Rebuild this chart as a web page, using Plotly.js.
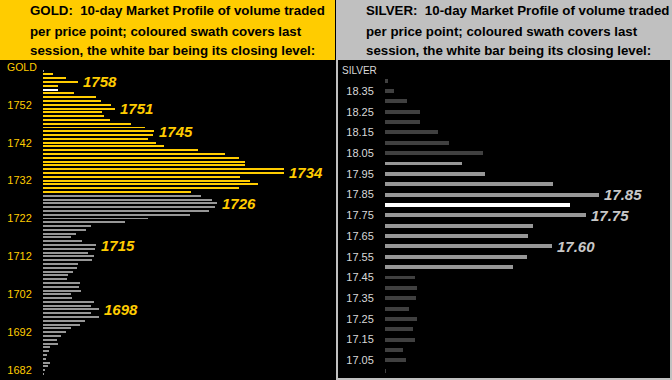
<!DOCTYPE html>
<html>
<head>
<meta charset="utf-8">
<script src="https://cdn.plot.ly/plotly-3.0.1.min.js"></script>
<style>
html,body{margin:0;padding:0;background:#000;}
#chart{width:672px;height:380px;}
</style>
</head>
<body>
<div id="chart"></div>
<script>
// ---------- GOLD data (price point -> volume traded, 10-day profile) ----------
const goldPrices = [1761,1760,1759,1758,1757,1756,1755,1754,1753,1752,1751,1750,1749,1748,1747,1746,1745,1744,1743,1742,1741,1740,1739,1738,1737,1736,1735,1734,1733,1732,1731,1730,1729,1728,1727,1726,1725,1724,1723,1722,1721,1720,1719,1718,1717,1716,1715,1714,1713,1712,1711,1710,1709,1708,1707,1706,1705,1704,1703,1702,1701,1700,1699,1698,1697,1696,1695,1694,1693,1692,1691,1690,1689,1688,1687,1686,1685,1684,1683,1682,1681];
const goldVolume = [1,10,23,35,15,15,31,53,58,68,72,59,61,67,88,102,111,110,105,113,121,155,182,196,202,202,241,241,197,207,215,196,148,158,169,174,172,166,147,105,82,48,43,33,28,39,53,52,45,51,49,35,34,30,25,24,37,36,38,28,29,51,48,56,48,56,42,37,28,23,18,14,15,7,6,4,3,7,5,2,1];
const goldSessionLow = 1729, goldSessionHigh = 1760, goldClose = 1756;
const goldLabels = [1758,1751,1745,1734,1726,1715,1698];
const goldTicks = [1682,1692,1702,1712,1722,1732,1742,1752];

// ---------- SILVER data ----------
const silverPrices = [18.40,18.35,18.30,18.25,18.20,18.15,18.10,18.05,18.00,17.95,17.90,17.85,17.80,17.75,17.70,17.65,17.60,17.55,17.50,17.45,17.40,17.35,17.30,17.25,17.20,17.15,17.10,17.05,17.00];
const silverVolume = [3,9,22,35,35,53,64,98,77,100,168,214,185,201,148,143,167,142,128,30,32,31,24,32,28,30,18,21,1];
const silverSessionLow = 17.50, silverSessionHigh = 18.00, silverClose = 17.80;
const silverLabels = [17.85,17.75,17.60];
const silverTicks = [17.05,17.15,17.25,17.35,17.45,17.55,17.65,17.75,17.85,17.95,18.05,18.15,18.25,18.35];

const goldHeader = ["GOLD:\u00a0 10-day Market Profile of volume traded","per price point; coloured swath covers last","session, the white bar being its closing level:"];
const silverHeader = ["SILVER:\u00a0 10-day Market Profile of volume traded","per price point; coloured swath covers last","session, the white bar being its closing level:"];

// ---------- colours ----------
const YELLOW = '#FFCC00', GREYBAR = '#979797', DARKBAR = '#404040', SILVERHDR = '#C0C0C0';

const W = 672, H = 380;
const px = v => v / W;
const py = v => 1 - v / H;

const goldColors = goldPrices.map(p => p === goldClose ? '#FFFFFF' : (p >= goldSessionLow && p <= goldSessionHigh ? YELLOW : GREYBAR));
const eps = 1e-6;
const silverColors = silverPrices.map(p => Math.abs(p - silverClose) < eps ? '#FFFFFF' : (p >= silverSessionLow - eps && p <= silverSessionHigh + eps ? GREYBAR : DARKBAR));

const traces = [
  {type:'bar', orientation:'h', x:goldVolume, y:goldPrices, width:0.52,
   marker:{color:goldColors, line:{width:0}}, xaxis:'x', yaxis:'y', hoverinfo:'none'},
  {type:'bar', orientation:'h', x:silverVolume, y:silverPrices, width:0.019,
   marker:{color:silverColors, line:{width:0}}, xaxis:'x2', yaxis:'y2', hoverinfo:'none'}
];

const FONT = 'Liberation Sans, Arial, sans-serif';
const annotations = [];
goldHeader.forEach((t,i) => annotations.push({xref:'paper', yref:'paper', x:px(28), y:py(11 + i*20), xanchor:'left', yanchor:'middle', text:'<b>'+t+'</b>', showarrow:false, font:{family:FONT, size:13.3, color:'#000'}}));
silverHeader.forEach((t,i) => annotations.push({xref:'paper', yref:'paper', x:px(364), y:py(11 + i*20), xanchor:'left', yanchor:'middle', text:'<b>'+t+'</b>', showarrow:false, font:{family:FONT, size:13.3, color:'#000'}}));
annotations.push({xref:'paper', yref:'paper', x:px(5), y:py(67), xanchor:'left', yanchor:'middle', text:'GOLD', showarrow:false, font:{family:FONT, size:10.5, color:YELLOW}});
annotations.push({xref:'paper', yref:'paper', x:px(340), y:py(70), xanchor:'left', yanchor:'middle', text:'SILVER', showarrow:false, font:{family:FONT, size:10, color:'#D8D8D8'}});
goldLabels.forEach(p => {
  const v = goldVolume[goldPrices.indexOf(p)];
  annotations.push({xref:'x', yref:'y', x:v, y:p, xanchor:'left', yanchor:'middle', xshift:3, text:'<b><i>'+p+'</i></b>', showarrow:false, font:{family:FONT, size:15, color:YELLOW}});
});
silverLabels.forEach(p => {
  const idx = silverPrices.findIndex(q => Math.abs(q - p) < eps);
  annotations.push({xref:'x2', yref:'y2', x:silverVolume[idx], y:p, xanchor:'left', yanchor:'middle', xshift:3, text:'<b><i>'+p.toFixed(2)+'</i></b>', showarrow:false, font:{family:FONT, size:15, color:'#C8C8C8'}});
});

const shapes = [
  {type:'rect', xref:'paper', yref:'paper', x0:0, x1:px(335), y0:py(60), y1:1, fillcolor:YELLOW, line:{width:0}, layer:'below'},
  {type:'rect', xref:'paper', yref:'paper', x0:px(336), x1:1, y0:0, y1:1, fillcolor:SILVERHDR, line:{width:0}, layer:'below'},
  {type:'rect', xref:'paper', yref:'paper', x0:px(338), x1:px(670), y0:py(378), y1:py(60), fillcolor:'#000', line:{width:0}, layer:'below'}
];

const layout = {
  width:W, height:H, margin:{l:0, r:0, t:0, b:0},
  paper_bgcolor:'#000', plot_bgcolor:'rgba(0,0,0,0)',
  showlegend:false, bargap:0,
  xaxis:{domain:[px(43), px(334)], range:[0, 291], visible:false, fixedrange:true},
  yaxis:{domain:[0, py(60)], range:[1679.4, 1763.8], tickvals:goldTicks, ticktext:goldTicks.map(String),
         showgrid:false, zeroline:false, showline:false, ticks:'outside', ticklen:8, tickcolor:'rgba(0,0,0,0)',
         tickfont:{family:FONT, size:11, color:YELLOW}, anchor:'x'},
  xaxis2:{domain:[px(385), px(670)], range:[0, 285], visible:false, fixedrange:true, anchor:'y2'},
  yaxis2:{domain:[0, py(60)], range:[16.9552, 18.4996], tickvals:silverTicks, ticktext:silverTicks.map(v=>v.toFixed(2)),
          showgrid:false, zeroline:false, showline:false, ticks:'outside', ticklen:8, tickcolor:'rgba(0,0,0,0)',
          tickfont:{family:FONT, size:11, color:'#D8D8D8'}, anchor:'x2'},
  annotations:annotations, shapes:shapes
};

Plotly.newPlot('chart', traces, layout, {staticPlot:true, displayModeBar:false});
</script>
</body>
</html>
